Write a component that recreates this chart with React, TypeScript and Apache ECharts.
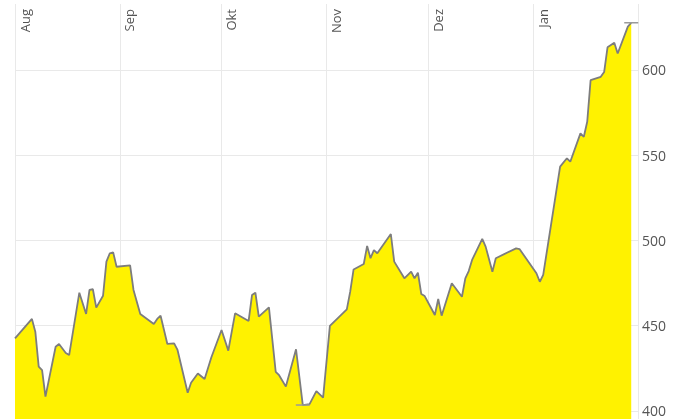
import React, { useEffect, useRef } from "react";
import * as echarts from "echarts";

// Days since 1 August 2020 for each traced point of the series
const dayOffsets = [
  0, 5, 6, 7, 8, 9, 12, 13, 15, 16, 19, 21, 22, 23, 24, 26, 27, 28, 29, 30,
  34, 35, 37, 41, 42, 43, 45, 47, 48, 51, 52, 54, 56, 58, 61, 63, 65, 69, 70,
  71, 72, 75, 77, 78, 80, 83, 85, 87, 89, 91, 93, 98, 99, 100, 103, 104, 105,
  106, 107, 111, 112, 115, 117, 118, 119, 120, 121, 124, 125, 126, 129, 132,
  133, 134, 135, 138, 139, 141, 142, 148, 149, 154, 155, 156, 161, 163, 164,
  167, 168, 169, 170, 173, 174, 175, 177, 178, 181, 182,
];

// Price values
const prices = [
  442.6, 454, 446.5, 426, 424, 408.4, 437.7, 439.3, 434, 432.8, 469.4, 456.9,
  471, 471.4, 460.6, 467.6, 487.6, 492.5, 493, 484.6, 485.4, 471, 456.9, 451,
  454, 455.9, 439.3, 439.7, 435.8, 410.7, 416.6, 422, 418.8, 431.5, 447.5,
  435.4, 457.3, 452.8, 468, 469.4, 455.3, 460.8, 423, 421, 414.3, 436.2, 403.5,
  404, 411.7, 407.8, 449.9, 459.6, 470, 483, 486.2, 496.8, 489.6, 494.4, 492.5,
  503.8, 487.6, 477.8, 481.7, 477.8, 481.1, 468.6, 467.4, 456.3, 465.7, 455.9,
  474.9, 467, 477.8, 482.1, 488.6, 500.9, 496.4, 481.7, 489.6, 495.4, 495,
  480.8, 475.8, 479.8, 543.3, 548.2, 546.2, 562.8, 560.8, 569.6, 594, 596,
  598.8, 613.3, 616, 609.7, 625.4, 627.7,
];

const monthLabels = [
  "Jan", "Feb", "Mär", "Apr", "Mai", "Jun",
  "Jul", "Aug", "Sep", "Okt", "Nov", "Dez",
];

const yMin = 395.3;
const yMax = 638.7;

export default function App() {
  const ref = useRef<HTMLDivElement>(null);

  useEffect(() => {
    if (!ref.current) return;
    const chart = echarts.init(ref.current, undefined, { renderer: "svg" });
    const start = new Date(2020, 7, 1).getTime();
    const end = new Date(2021, 1, 1).getTime();
    const data = dayOffsets.map((d, i) => [
      new Date(2020, 7, 1 + d).getTime(),
      prices[i],
    ]);
    chart.setOption({
      animation: false,
      grid: { left: 15, right: 41, top: 4, bottom: 0 },
      xAxis: {
        type: "time",
        position: "top",
        min: start,
        max: end,
        minInterval: 28 * 864e5,
        maxInterval: 31 * 864e5,
        axisLine: { show: false },
        axisTick: { show: false },
        splitLine: { show: true, lineStyle: { color: "#e9e9e9", width: 1 } },
        axisLabel: {
          inside: true,
          rotate: -90,
          margin: 5,
          align: "right",
          verticalAlign: "top",
          padding: [3, 0, 0, 0],
          color: "#555",
          fontSize: 13,
          fontFamily: "Open Sans",
          formatter: (val: number) => {
            const m = new Date(val).getMonth();
            return m === 1 ? "" : monthLabels[m];
          },
        },
      },
      yAxis: {
        type: "value",
        position: "right",
        min: yMin,
        max: yMax,
        splitNumber: 5,
        axisLine: { show: false },
        axisTick: { show: false },
        splitLine: {
          show: true,
          showMinLine: false,
          showMaxLine: false,
          lineStyle: { color: "#e9e9e9", width: 1 },
        },
        axisLabel: {
          showMinLabel: false,
          showMaxLabel: false,
          margin: 4,
          color: "#555",
          fontSize: 14,
          fontFamily: "Open Sans",
        },
      },
      series: [
        {
          type: "line",
          data,
          symbol: "none",
          showSymbol: false,
          lineStyle: { color: "#7d7d7d", width: 1.8 },
          areaStyle: { color: "#fff200", opacity: 1 },
          markPoint: {
            symbol: "rect",
            symbolSize: [14, 1.5],
            itemStyle: { color: "#9a9a9a" },
            label: { show: false },
            data: [{ type: "max" }, { type: "min" }],
          },
        },
      ],
    });
    return () => chart.dispose();
  }, []);

  return (
    <div
      ref={ref}
      style={{ position: "fixed", left: 0, top: 0, width: 679, height: 419 }}
    />
  );
}
